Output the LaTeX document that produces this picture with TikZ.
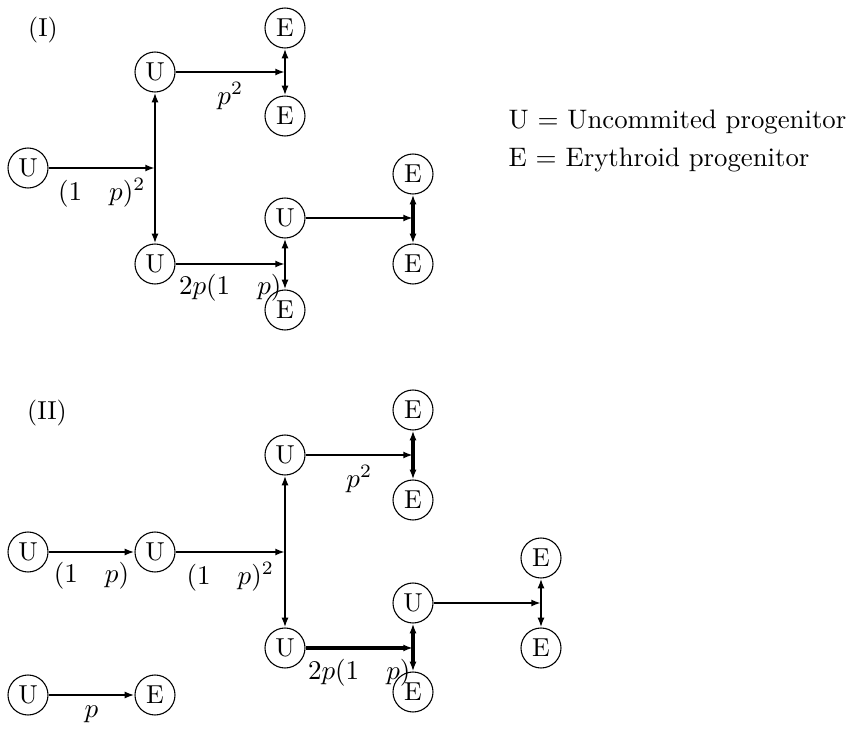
\documentclass[tikz,border=0pt]{standalone}
\usetikzlibrary{arrows.meta}
\begin{document}
\begin{tikzpicture}[x=0.37pt,y=-0.37pt,
  every node/.append style={font=\fontsize{9.6pt}{11.5pt}\selectfont},
  cell/.style={circle,draw,line width=0.4pt,minimum size=14.8pt,inner sep=0pt},
  flow/.style={line width=0.75pt,-{Latex[length=3.6pt,width=2.6pt]}},
  heavy/.style={line width=1.3pt},
  key/.style={anchor=west,inner sep=0pt,font=\fontsize{9.9pt}{12pt}\selectfont},
  rate/.style={midway,below,inner sep=0pt,yshift=-3.5pt}]
\useasboundingbox (0,0) rectangle (847,736);

% ---------- (I) ----------
\node (t1) at (43,30) {(I)};
\node[cell] (a0) at (28,168) {U};
\node[cell] (a1) at (155,72) {U};
\node[cell] (a2) at (155,264) {U};
\node[cell] (a3) at (285,28) {E};
\node[cell] (a4) at (285,116) {E};
\node[cell] (a5) at (285,218) {U};
\node[cell] (a6) at (285,310) {E};
\node[cell] (a7) at (413,174) {E};
\node[cell] (a8) at (413,264) {E};
\coordinate (ja) at (155,168);
\coordinate (jb) at (285,72);
\coordinate (jc) at (285,264);
\coordinate (jd) at (413,218);

\draw[flow] (a0) -- (ja) node[rate] {$(1\mkern18mu p)^2$};
\draw[flow] (ja) -- (a1);
\draw[flow] (ja) -- (a2);
\draw[flow] (a1) -- (jb) node[rate] {$p^2$};
\draw[flow] (jb) -- (a3);
\draw[flow] (jb) -- (a4);
\draw[flow] (a2) -- (jc) node[rate] {$2p(1\mkern18mu p)$};
\draw[flow] (jc) -- (a5);
\draw[flow] (jc) -- (a6);
\draw[flow] (a5) -- (jd);
\draw[flow,heavy] (jd) -- (a7);
\draw[flow,heavy] (jd) -- (a8);

% ---------- legend ----------
\node[key] (k1) at (508,122) {U $=$ Uncommited progenitor};
\node[key] (k2) at (508,160) {E $=$ Erythroid progenitor};

% ---------- (II) ----------
\node (t2) at (47,413) {(II)};
\node[cell] (b0) at (28,552) {U};
\node[cell] (b1) at (155,552) {U};
\node[cell] (b2) at (285,455) {U};
\node[cell] (b3) at (285,648) {U};
\node[cell] (b4) at (413,410) {E};
\node[cell] (b5) at (413,500) {E};
\node[cell] (b6) at (413,603) {U};
\node[cell] (b7) at (413,692) {E};
\node[cell] (b8) at (541,558) {E};
\node[cell] (b9) at (541,648) {E};
\node[cell] (c0) at (28,695) {U};
\node[cell] (c1) at (155,695) {E};
\coordinate (ka) at (285,552);
\coordinate (kb) at (413,455);
\coordinate (kc) at (413,648);
\coordinate (kd) at (541,603);

\draw[flow] (b0) -- (b1) node[rate] {$(1\mkern18mu p)$};
\draw[flow] (b1) -- (ka) node[rate] {$(1\mkern18mu p)^2$};
\draw[flow] (ka) -- (b2);
\draw[flow] (ka) -- (b3);
\draw[flow] (b2) -- (kb) node[rate] {$p^2$};
\draw[flow,heavy] (kb) -- (b4);
\draw[flow,heavy] (kb) -- (b5);
\draw[flow,heavy] (b3) -- (kc) node[rate] {$2p(1\mkern18mu p)$};
\draw[flow,heavy] (kc) -- (b6);
\draw[flow,heavy] (kc) -- (b7);
\draw[flow] (b6) -- (kd);
\draw[flow] (kd) -- (b8);
\draw[flow] (kd) -- (b9);
\draw[flow] (c0) -- (c1) node[rate] {$p$};
\end{tikzpicture}
\end{document}
